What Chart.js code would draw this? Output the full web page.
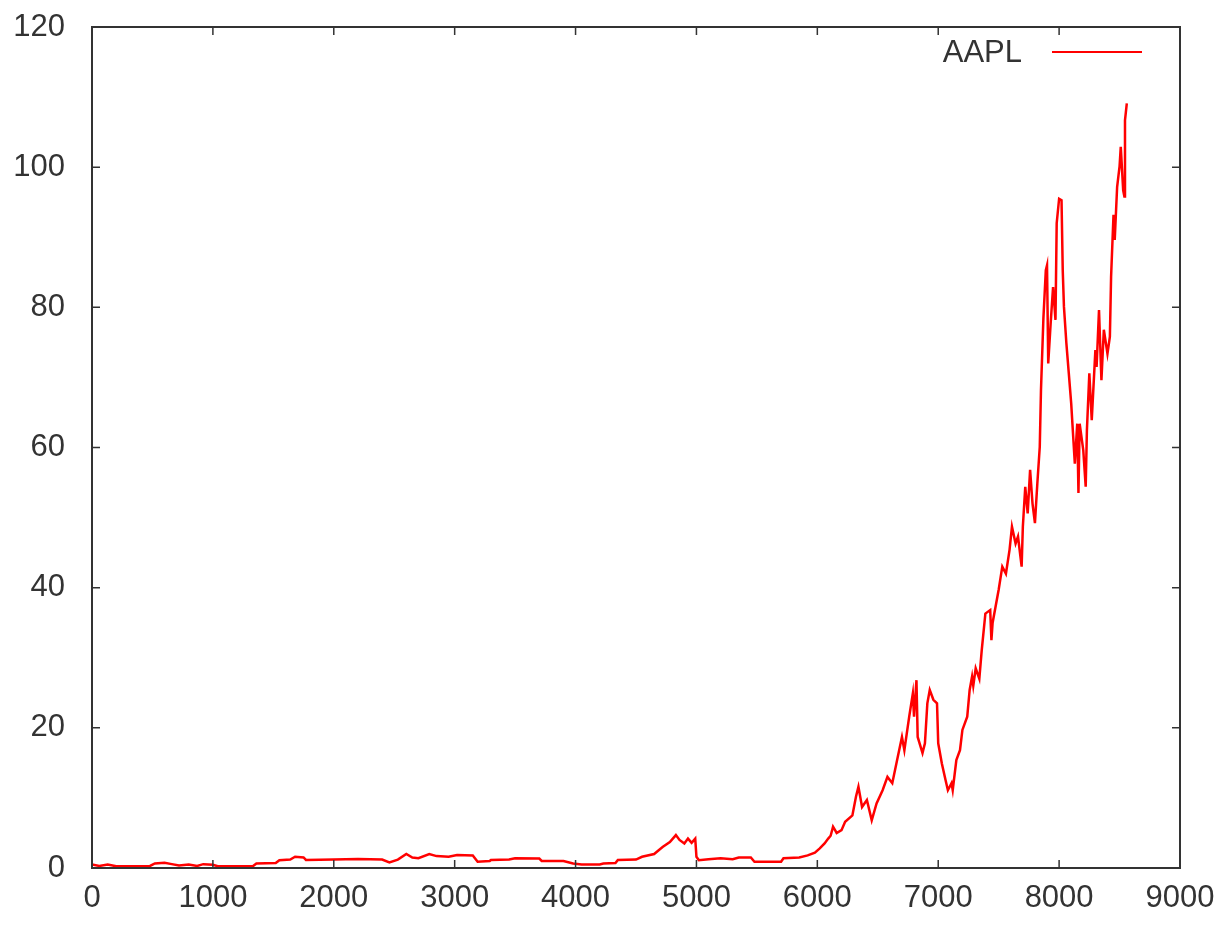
<!DOCTYPE html>
<html>
<head>
<meta charset="utf-8">
<script src="https://cdn.jsdelivr.net/npm/chart.js@4"></script>
<style>
body{margin:0;background:#fff;}
</style>
</head>
<body>
<canvas id="c" width="1230" height="928"></canvas>
<script>
// day index and close price
let days = [0,60,130,200,480,520,600,660,720,800,870,920,1000,1040,1330,1360,1520,1550,1640,1680,1750,1770,2000,2200,2400,2460,2530,2600,2650,2700,2790,2850,2950,3020,3150,3190,3290,3300,3450,3500,3700,3720,3900,3980,4050,4200,4230,4330,4350,4500,4550,4650,4720,4780,4830,4860,4900,4930,4960,4990,5000,5020,5100,5200,5300,5350,5450,5480,5700,5720,5850,5920,5980,6020,6060,6090,6110,6130,6160,6200,6230,6290,6320,6340,6370,6410,6450,6490,6540,6580,6620,6660,6700,6720,6760,6790,6800,6820,6830,6870,6890,6910,6930,6960,6990,7000,7030,7060,7080,7110,7120,7150,7180,7200,7240,7260,7280,7290,7310,7340,7360,7390,7430,7440,7450,7500,7530,7560,7590,7610,7640,7660,7690,7700,7720,7740,7760,7780,7800,7820,7840,7850,7870,7890,7900,7910,7930,7950,7970,7980,8000,8020,8030,8040,8060,8080,8100,8110,8130,8150,8160,8170,8200,8220,8230,8250,8270,8300,8310,8330,8350,8370,8400,8420,8430,8450,8460,8480,8500,8510,8530,8540,8545,8560];
let prices = [0.5,0.3,0.5,0.25,0.3,0.65,0.75,0.55,0.35,0.5,0.3,0.55,0.45,0.25,0.25,0.65,0.7,1.1,1.2,1.6,1.5,1.15,1.2,1.3,1.2,0.8,1.2,2.0,1.5,1.4,2.0,1.7,1.6,1.85,1.8,0.9,1.0,1.15,1.2,1.4,1.35,1.0,1.0,0.65,0.5,0.5,0.65,0.7,1.15,1.2,1.6,2.0,3.0,3.7,4.7,4.0,3.5,4.2,3.6,4.2,1.6,1.1,1.25,1.4,1.25,1.5,1.5,0.9,0.9,1.4,1.5,1.8,2.2,2.8,3.5,4.2,4.6,5.9,5.0,5.4,6.6,7.5,10.2,11.6,8.7,9.7,6.8,9.2,11.1,13.0,12.1,15.4,18.7,16.8,21.6,24.9,21.6,26.8,18.7,16.4,17.8,23.5,25.4,24.0,23.5,17.8,14.9,12.6,11.1,12.1,11.1,15.4,16.8,19.7,21.6,25.4,27.3,26.0,28.5,27.0,31.1,36.3,36.8,32.5,35,39.7,43.0,42.0,45.4,48.7,46.3,47.3,43.0,48.7,54.4,50.6,56.8,52.0,49.2,54.9,60.1,68.2,78.4,85.3,86.0,72.0,77.7,82.9,78.2,92.0,95.5,95.3,85.3,80.1,74.9,70.6,66.3,63.4,57.7,63.4,53.5,63.4,59.6,54.4,62.5,70.6,63.9,73.9,71.5,79.6,69.6,76.8,73.4,75.8,84.4,93.2,89.6,97.2,100.1,102.9,96.7,95.8,106.7,109.1];
let seriesName = "AAPL";

let pts = days.map((d,i)=>({x:d,y:prices[i]}));

const frameColor = "#333";
const font = {family:"'Liberation Sans', Arial, sans-serif", size:31};

// gnuplot style box with inward ticks on all four sides, plus the key
const gnuFrame = {
  id:"gnuFrame",
  afterDatasetsDraw(chart){
    let ctx = chart.ctx, a = chart.chartArea;
    let xs = chart.scales.x, ys = chart.scales.y;
    ctx.save();
    ctx.strokeStyle = frameColor; ctx.lineWidth = 2;
    ctx.strokeRect(a.left, a.top, a.right-a.left, a.bottom-a.top);
    ctx.lineWidth = 1.5;
    ctx.beginPath();
    xs.ticks.forEach(t=>{
      let p = xs.getPixelForValue(t.value);
      if(t.value>0 && t.value<9000){
        ctx.moveTo(p,a.bottom); ctx.lineTo(p,a.bottom-8);
        ctx.moveTo(p,a.top); ctx.lineTo(p,a.top+8);
      }
    });
    ys.ticks.forEach(t=>{
      let p = ys.getPixelForValue(t.value);
      if(t.value>0 && t.value<120){
        ctx.moveTo(a.left,p); ctx.lineTo(a.left+8,p);
        ctx.moveTo(a.right,p); ctx.lineTo(a.right-8,p);
      }
    });
    ctx.stroke();
    // key
    let ds = chart.data.datasets[0];
    ctx.font = font.size+"px "+font.family;
    ctx.fillStyle = frameColor;
    ctx.textAlign = "right"; ctx.textBaseline = "middle";
    ctx.fillText(ds.label, 1022, 53);
    ctx.strokeStyle = ds.borderColor; ctx.lineWidth = 2;
    ctx.beginPath(); ctx.moveTo(1052,52); ctx.lineTo(1142,52); ctx.stroke();
    ctx.restore();
  }
};

new Chart(document.getElementById("c"),{
  type:"scatter",
  data:{datasets:[{label:seriesName,data:pts,showLine:true,borderColor:"#ff0000",borderWidth:2.5,pointRadius:0,tension:0,fill:false}]},
  options:{
    responsive:false, animation:false,
    layout:{padding:{top:27,right:50,left:0,bottom:0}},
    plugins:{legend:{display:false},tooltip:{enabled:false}},
    scales:{
      x:{type:"linear",min:0,max:9000,
        ticks:{stepSize:1000,color:frameColor,font:font,padding:12,maxRotation:0,callback:v=>String(v)},
        grid:{display:false,drawTicks:false},border:{display:false},
        afterFit(s){s.height=60;s.paddingLeft=0;s.paddingRight=0;}},
      y:{type:"linear",min:0,max:120,
        ticks:{stepSize:20,color:frameColor,font:font,padding:27,callback:v=>String(v)},
        grid:{display:false,drawTicks:false},border:{display:false},
        afterFit(s){s.width=92;s.paddingTop=0;s.paddingBottom=0;}}
    }
  },
  plugins:[gnuFrame]
});
</script>
</body>
</html>
